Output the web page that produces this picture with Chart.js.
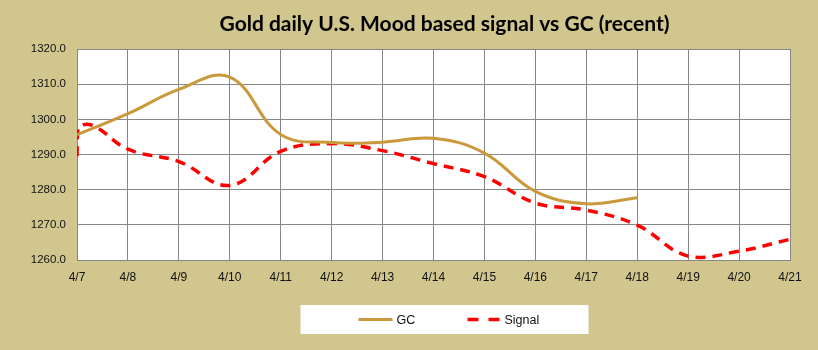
<!DOCTYPE html>
<html><head><meta charset="utf-8">
<script src="https://cdn.jsdelivr.net/npm/chart.js@4"></script>
<style>html,body{margin:0;padding:0;background:#D1C68E;}canvas{display:block}</style>
</head><body>
<canvas id="c" width="818" height="350"></canvas>
<script>
const chartTitle = 'Gold daily U.S. Mood based signal vs GC (recent)';
const dateLabels = ['4/7','4/8','4/9','4/10','4/11','4/12','4/13','4/14','4/15','4/16','4/17','4/18','4/19','4/20','4/21'];
const gcDays = [0,1,2,3,4,5,6,7,8,9,10,11];
const gcValues = [1295.6,1301.6,1308.5,1312.0,1295.7,1293.4,1293.5,1294.6,1290.4,1279.5,1276.0,1277.7];
const signalDays = [0,0.02,0.3,1,2,3,4,5,6,7,8,9,10,11,12,13,14];
const signalValues = [1289.5,1297.4,1298.3,1291.5,1288.0,1281.2,1290.9,1293.1,1291.1,1287.4,1283.7,1276.2,1274.2,1269.9,1261.1,1262.5,1265.9];
const yTicks = [1260,1270,1280,1290,1300,1310,1320];

const BG = '#D1C68E', GOLD = '#C9993C', RED = '#FF0000', GRID = '#878787', TXT = '#111';
const yFont = {family:'"Liberation Sans", Arial, sans-serif', size:11.5};
const xFont = {family:'"Liberation Sans", Arial, sans-serif', size:12};

const decor = {
  id:'decor',
  beforeDraw(chart){
    const {ctx, chartArea:a} = chart;
    ctx.save();
    ctx.fillStyle = BG; ctx.fillRect(0,0,chart.width,chart.height);
    ctx.fillStyle = '#fff'; ctx.fillRect(a.left,a.top,a.right-a.left,a.bottom-a.top);
    ctx.restore();
  },
  afterDraw(chart){
    const {ctx, chartArea:a} = chart;
    const cx = (a.left + a.right)/2 + 11;
    ctx.save();
    let size = 22;
    ctx.font = 'bold ' + size + 'px Lato, "Open Sans", sans-serif';
    const w = ctx.measureText(chartTitle).width;
    size = size * 450 / w;
    ctx.font = 'bold ' + size.toFixed(2) + 'px Lato, "Open Sans", sans-serif';
    ctx.fillStyle = '#000';
    ctx.textAlign = 'center'; ctx.textBaseline = 'alphabetic';
    ctx.fillText(chartTitle, cx, 31);
    const bw = 288, bh = 29, by = 305;
    ctx.fillStyle = '#fff';
    ctx.fillRect(cx - bw/2, by, bw, bh);
    const ly = by + bh/2;
    ctx.font = '12.5px "Liberation Sans", Arial, sans-serif';
    ctx.textAlign = 'left'; ctx.textBaseline = 'middle'; ctx.fillStyle = '#111';
    const ds = chart.data.datasets;
    ctx.strokeStyle = GOLD; ctx.lineWidth = 3; ctx.setLineDash([]);
    ctx.beginPath(); ctx.moveTo(cx-86, ly); ctx.lineTo(cx-52, ly); ctx.stroke();
    ctx.fillText(ds[0].label, cx-48, ly+1);
    ctx.strokeStyle = RED; ctx.lineWidth = 3.5; ctx.setLineDash([11,10]);
    ctx.beginPath(); ctx.moveTo(cx+23, ly); ctx.lineTo(cx+56, ly); ctx.stroke();
    ctx.setLineDash([]);
    ctx.fillText(ds[1].label, cx+60, ly+1);
    ctx.restore();
  }
};

new Chart(document.getElementById('c'), {
  type:'line',
  data:{datasets:[
    {label:'GC', data:gcDays.map((d,i)=>({x:d,y:gcValues[i]})), borderColor:GOLD, borderWidth:3, tension:0.4, pointRadius:0, fill:false},
    {label:'Signal', data:signalDays.map((d,i)=>({x:d,y:signalValues[i]})), borderColor:RED, borderWidth:3.5, borderDash:[10,7], tension:0.4, pointRadius:0, fill:false}
  ]},
  options:{
    responsive:false, animation:false, devicePixelRatio:1,
    layout:{padding:{top:49,right:28,left:0,bottom:0}},
    plugins:{legend:{display:false}, title:{display:false}, tooltip:{enabled:false}},
    scales:{
      x:{type:'linear', min:0, max:dateLabels.length-1,
        afterBuildTicks(s){ s.ticks = dateLabels.map((_,i)=>({value:i})); },
        afterFit(s){ s.height = 90; },
        ticks:{callback:(v)=>dateLabels[v], padding:10, font:xFont, color:TXT, maxRotation:0, autoSkip:false},
        grid:{color:GRID, lineWidth:1, drawTicks:false},
        border:{color:GRID, width:1}
      },
      y:{min:yTicks[0], max:yTicks[yTicks.length-1],
        afterBuildTicks(s){ s.ticks = yTicks.map(v=>({value:v})); },
        afterFit(s){ s.width = 77; },
        ticks:{callback:(v)=>Number(v).toFixed(1), padding:11, font:yFont, color:TXT},
        grid:{color:GRID, lineWidth:1, drawTicks:false},
        border:{color:GRID, width:1}
      }
    }
  },
  plugins:[decor]
});
</script>
</body></html>
